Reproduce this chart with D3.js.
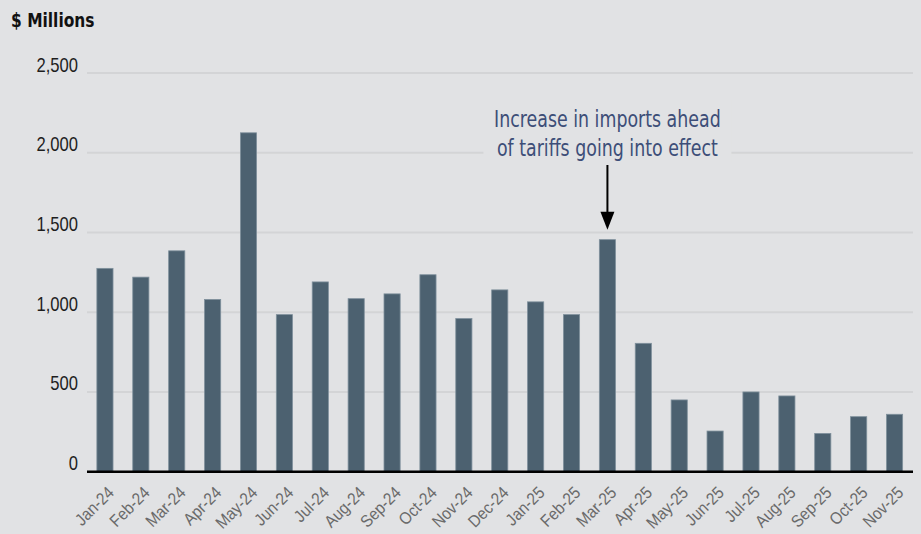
<!DOCTYPE html>
<html>
<head>
<meta charset="utf-8">
<script src="https://cdn.jsdelivr.net/npm/d3@7"></script>
<style>
  body { margin: 0; background: #e1e2e4; }
  svg { display: block; font-family: "Liberation Sans Narrow", "DejaVu Sans Condensed", "Roboto", sans-serif; }
</style>
</head>
<body>
<div id="chart-area"></div>
<script>
// chart data
const months = ["Jan-24", "Feb-24", "Mar-24", "Apr-24", "May-24", "Jun-24", "Jul-24", "Aug-24",
  "Sep-24", "Oct-24", "Nov-24", "Dec-24", "Jan-25", "Feb-25", "Mar-25", "Apr-25", "May-25",
  "Jun-25", "Jul-25", "Aug-25", "Sep-25", "Oct-25", "Nov-25"]
const imports = [1275, 1220, 1385, 1080, 2125, 985, 1190, 1085, 1115, 1235, 960, 1140, 1065,
  985, 1455, 805, 450, 255, 500, 475, 240, 345, 360]
const yTicks = [0, 500, 1000, 1500, 2000, 2500]
const noteLines = ["Increase in imports ahead", "of tariffs going into effect"]
const noteMonth = "Mar-25"

const W = 921, H = 534
const MARGIN = { LEFT: 87, RIGHT: 8, TOP: 73, BOTTOM: 62 }
const BG = "#e1e2e4"

const svg = d3.select("#chart-area").append("svg")
  .attr("width", W)
  .attr("height", H)

svg.append("rect").attr("width", W).attr("height", H).attr("fill", BG)

const x = d3.scaleBand()
  .domain(months)
  .range([MARGIN.LEFT, W - MARGIN.RIGHT - 0.5])
  .paddingInner(0.55)
  .paddingOuter(0.275)

const y = d3.scaleLinear()
  .domain([0, 2500])
  .range([H - MARGIN.BOTTOM - 0.3, MARGIN.TOP])

// gridlines
svg.append("g")
  .selectAll("line")
  .data(yTicks.filter(d => d > 0))
  .join("line")
  .attr("x1", MARGIN.LEFT)
  .attr("x2", W - MARGIN.RIGHT)
  .attr("y1", d => y(d))
  .attr("y2", d => y(d))
  .attr("stroke", "#d3d4d6")
  .attr("stroke-width", 2)

// y axis labels (squeezed a bit to get the narrow look of the original face)
const yAxis = svg.append("g")
  .attr("transform", `translate(${MARGIN.LEFT - 9}, 0)`)
  .call(d3.axisLeft(y).tickValues(yTicks).tickSize(0).tickPadding(0).tickFormat(d3.format(",")))
yAxis.select(".domain").remove()
yAxis.selectAll("text")
  .attr("x", 0)
  .attr("dy", 0)
  .attr("y", -2)
  .attr("font-size", "20px")
  .attr("fill", "#1e1e1e")
  .attr("transform", "scale(0.83,1)")

// bars
svg.append("g")
  .selectAll("rect")
  .data(months)
  .join("rect")
  .attr("x", d => x(d))
  .attr("width", x.bandwidth())
  .attr("y", (d, i) => y(imports[i]))
  .attr("height", (d, i) => y(0) - y(imports[i]))
  .attr("fill", "#4c6170")
  .attr("stroke", "#7f909c")
  .attr("stroke-width", 0.8)

// baseline / x axis
const xAxis = svg.append("g")
  .attr("transform", `translate(0, ${y(0)})`)
  .call(d3.axisBottom(x).tickSize(0).tickPadding(0))
xAxis.select(".domain")
  .attr("d", `M${MARGIN.LEFT},0H${W - MARGIN.RIGHT}`)
  .attr("stroke", "#000")
  .attr("stroke-width", 2.5)
xAxis.selectAll("text")
  .attr("text-anchor", "end")
  .attr("font-size", "17px")
  .attr("fill", "#6a6a6a")
  .attr("x", 0)
  .attr("y", 0)
  .attr("dy", 0)
  .attr("transform", "translate(10, 22) rotate(-45) scale(0.9,1)")

// title
svg.append("text")
  .attr("x", 11)
  .attr("y", 27)
  .attr("font-size", "20px")
  .attr("font-weight", "bold")
  .attr("fill", "#111")
  .attr("transform", "translate(11,0) scale(0.86,1) translate(-11,0)")
  .text("$ Millions")

// annotation
const noteX = x(noteMonth) + x.bandwidth() / 2
const noteTop = y(imports[months.indexOf(noteMonth)])
const note = svg.append("g")
note.append("rect")
  .attr("x", noteX - 124)
  .attr("y", 100)
  .attr("width", 248)
  .attr("height", 62)
  .attr("fill", BG)
note.selectAll("text")
  .data(noteLines)
  .join("text")
  .attr("x", 0)
  .attr("y", 0)
  .attr("transform", (d, i) => `translate(${noteX}, ${127 + i * 28.5}) scale(0.86,1)`)
  .attr("text-anchor", "middle")
  .attr("font-size", "22.5px")
  .attr("fill", "#3d4e78")
  .text(d => d)

note.append("line")
  .attr("x1", noteX)
  .attr("x2", noteX)
  .attr("y1", 165)
  .attr("y2", noteTop - 14)
  .attr("stroke", "#000")
  .attr("stroke-width", 2)
note.append("path")
  .attr("d", `M${noteX - 7},${noteTop - 28}L${noteX + 7},${noteTop - 28}L${noteX},${noteTop - 10}Z`)
  .attr("fill", "#000")
</script>
</body>
</html>
